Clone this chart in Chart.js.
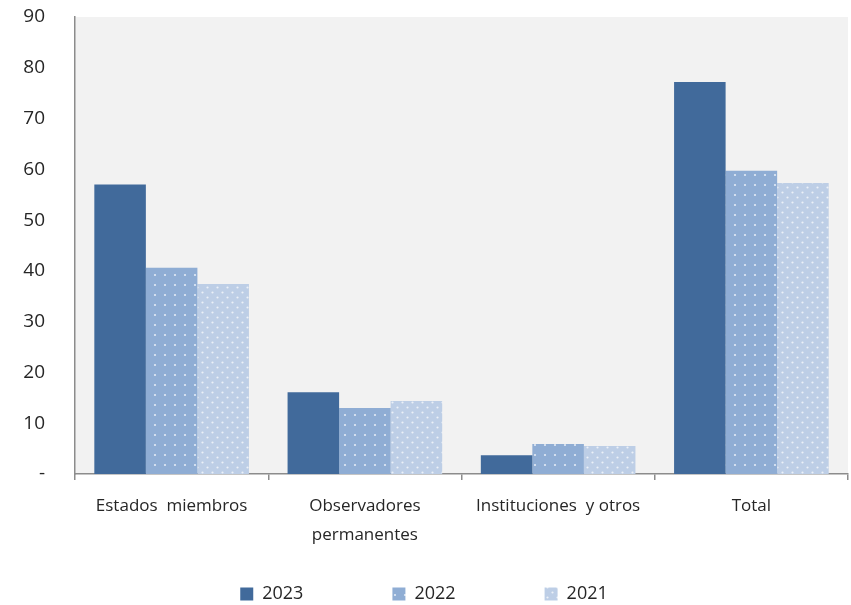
<!DOCTYPE html>
<html>
<head>
<meta charset="utf-8">
<script src="https://cdn.jsdelivr.net/npm/chart.js@4"></script>
<style>
  html, body { margin: 0; padding: 0; background: #fff; }
  #wrap { width: 851px; height: 605px; }
</style>
</head>
<body>
<div id="wrap"><canvas id="chart" width="851" height="605"></canvas></div>
<script>
/* ── Data ─────────────────────────────────────────────── */
const categories = [
  'Estados  miembros',
  ['Observadores', 'permanentes'],
  'Instituciones  y otros',
  'Total',
];
const years    = ['2023', '2022', '2021'];
const vals2023 = [57.0, 16.1, 3.7, 77.2];
const vals2022 = [40.6, 13.0, 5.9, 59.7];
const vals2021 = [37.4, 14.4, 5.5, 57.3];
const yTicks   = [0, 10, 20, 30, 40, 50, 60, 70, 80, 90];

/* ── Dotted fills ─────────────────────────────────────── */
function dotPattern(base, dots, alpha) {
  const c = document.createElement('canvas');
  c.width = 10; c.height = 10;
  const g = c.getContext('2d');
  g.fillStyle = base;
  g.fillRect(0, 0, 10, 10);
  g.fillStyle = `rgba(255,255,255,${alpha})`;
  for (const [x, y] of dots) {
    g.beginPath();
    g.arc(x, y, 1.1, 0, Math.PI * 2);
    g.fill();
  }
  return g.createPattern(c, 'repeat');
}

const fill2023 = '#416a9b';
const fill2022 = dotPattern('#8fadd4', [[5, 5]], 0.75);
const fill2021 = dotPattern('#bdcee6', [[2.5, 2.5], [7.5, 7.5]], 0.7);

// gray plot background
const plotBg = {
  id: 'plotBg',
  beforeDraw(chart) {
    const { ctx, chartArea: a } = chart;
    ctx.save();
    ctx.fillStyle = '#f2f2f2';
    ctx.fillRect(a.left, a.top, a.right - a.left, a.bottom - a.top);
    ctx.restore();
  },
};

// legend needs wide item spacing but a short box: pull it back up after layout
const legendLift = {
  id: 'legendLift',
  afterLayout(chart) {
    const lg = chart.legend;
    const pad = lg.options.labels.padding;
    const h = lg.height;
    lg.top = 585 - pad;
    lg.bottom = lg.top + h;
  },
};

const FONT = "'Open Sans', 'Noto Sans', sans-serif";
const axisGray = '#8c8c8c';
const textColor = '#262626';

new Chart(document.getElementById('chart'), {
  type: 'bar',
  data: {
    labels: categories,
    datasets: [
      { label: years[0], data: vals2023, backgroundColor: fill2023 },
      { label: years[1], data: vals2022, backgroundColor: fill2022 },
      { label: years[2], data: vals2021, backgroundColor: fill2021 },
    ],
  },
  options: {
    responsive: false,
    animation: false,
    devicePixelRatio: 1,
    layout: { padding: { top: 17, right: 3, left: 0, bottom: -66 } },
    datasets: { bar: { categoryPercentage: 0.8, barPercentage: 1.0, borderWidth: 0 } },
    plugins: {
      legend: {
        position: 'bottom',
        labels: {
          boxWidth: 13,
          boxHeight: 13,
          padding: 89,
          color: textColor,
          font: { family: FONT, size: 18 },
        },
      },
      tooltip: { enabled: false },
    },
    scales: {
      x: {
        grid: {
          display: true,
          drawOnChartArea: false,
          offset: true,
          tickLength: 6,
          color: axisGray,
          lineWidth: 1.5,
        },
        border: { color: axisGray, width: 1.5 },
        ticks: {
          color: textColor,
          padding: 12,
          maxRotation: 0,
          autoSkip: false,
          font: { family: FONT, size: 17, lineHeight: 1.7 },
        },
        afterFit: s => { s.height = 80; },
      },
      y: {
        min: 0,
        max: 90,
        afterBuildTicks: s => { s.ticks = yTicks.map(v => ({ value: v })); },
        grid: { display: false },
        border: { color: axisGray, width: 1.5 },
        ticks: {
          color: textColor,
          padding: 22,
          font: { family: FONT, size: 19 },
          callback: v => (v === 0 ? '-' : v),
        },
        afterFit: s => {
          s.width = 75;
          s.paddingTop = 0;
          s.paddingBottom = 0;
        },
      },
    },
  },
  plugins: [plotBg, legendLift],
});
</script>
</body>
</html>
